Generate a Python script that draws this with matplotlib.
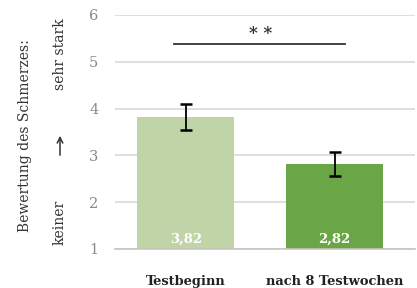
import matplotlib.pyplot as plt

categories = ['Testbeginn', 'nach 8 Testwochen']
values = [3.82, 2.82]
errors = [0.27, 0.26]
value_labels = ['3,82', '2,82']
colors = ['#c0d4a8', '#6aa646']

plt.rcParams['font.family'] = ['DejaVu Serif']

fig = plt.figure(figsize=(4.17, 2.88), dpi=100)
ax = fig.add_axes([115 / 417, 1 - 249 / 288, 300 / 417, (249 - 15) / 288])

x = range(len(categories))
ax.bar(x, [v - 1 for v in values], bottom=1, width=0.65, color=colors, zorder=2)
ax.errorbar(x, values, yerr=errors, fmt='none', ecolor='black', elinewidth=1.3,
            capsize=4.5, capthick=1.8, zorder=3)

for xi, lab in zip(x, value_labels):
    ax.text(xi, 1.2, lab, ha='center', va='center', color='white',
            fontsize=9.5, fontweight='bold', zorder=4)

# significance bracket
ax.plot([-0.08, 1.07], [5.39, 5.39], color='#333333', lw=1.3, zorder=3)
ax.text(0.5, 5.6, '* *', ha='center', va='center', fontsize=12,
        fontweight='bold', color='#333333')

ax.set_xlim(-0.475, 1.54)
ax.set_ylim(1, 6)
ax.set_yticks([1, 2, 3, 4, 5, 6])
ax.yaxis.grid(True, color='#d9d9d9', lw=1.2, zorder=0)
ax.set_axisbelow(True)
for s in ['top', 'right', 'left']:
    ax.spines[s].set_visible(False)
ax.spines['bottom'].set_color('#c8c4bc')
ax.spines['bottom'].set_linewidth(1.2)
ax.tick_params(axis='y', length=0, pad=12, labelcolor='#8a8a80', labelsize=10.5)
ax.tick_params(axis='x', length=0, pad=19, labelsize=9.4)
ax.set_xticks(list(x))
ax.set_xticklabels(categories, fontweight='bold', color='#222222')

fig.text(25 / 417, 1 - 136 / 288, 'Bewertung des Schmerzes:', rotation=90,
         ha='center', va='center', fontsize=10, color='#333333')
fig.text(60 / 417, 1 - 222 / 288, 'keiner', rotation=90,
         ha='center', va='center', fontsize=10, color='#333333')
ax.annotate('', xy=(60 / 417, 1 - 133 / 288), xytext=(60 / 417, 1 - 158 / 288),
            xycoords='figure fraction', textcoords='figure fraction',
            annotation_clip=False,
            arrowprops=dict(arrowstyle='->', color='#333333', lw=1.1))
fig.text(60 / 417, 1 - 54 / 288, 'sehr stark', rotation=90,
         ha='center', va='center', fontsize=10, color='#333333')

fig.savefig('out.png', dpi=100)
